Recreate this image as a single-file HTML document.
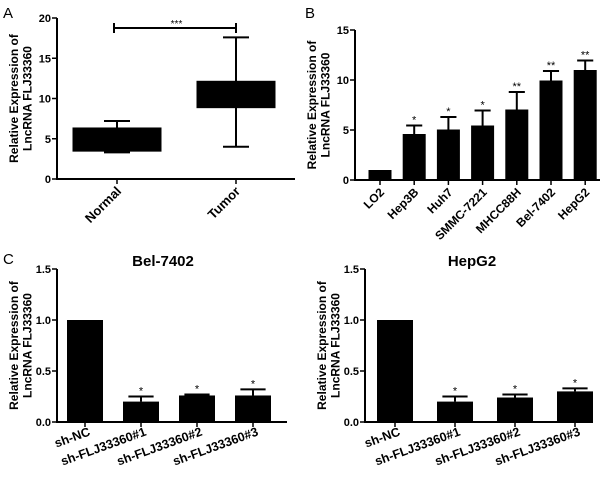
<!DOCTYPE html>
<html><head><meta charset="utf-8"><style>
html,body{margin:0;padding:0;background:#fff}
svg{display:block;font-family:"Liberation Sans",Arial,sans-serif}
</style></head><body>
<svg id="fig" width="600" height="486" viewBox="0 0 600 486"></svg>
<script>
// Panel A data (box plot)
const aCategories=["Normal","Tumor"];
const aMin=[3.3,4.0];
const aQ1=[3.4,8.8];
const aQ3=[6.4,12.2];
const aMax=[7.2,17.6];
const aTicks=[0,5,10,15,20];
// Panel B data
const bCategories=["LO2","Hep3B","Huh7","SMMC-7221","MHCC88H","Bel-7402","HepG2"];
const bValues=[1,4.6,5.05,5.45,7.05,9.95,11.0];
const bErr=[0,0.85,1.25,1.5,1.75,0.95,0.95];
const bStars=["","*","*","*","**","**","**"];
const bTicks=[0,5,10,15];
// Panel C data
const cCategories=["sh-NC","sh-FLJ33360#1","sh-FLJ33360#2","sh-FLJ33360#3"];
const cBelValues=[1.0,0.2,0.26,0.26];
const cBelErr=[0,0.05,0.01,0.06];
const cHepValues=[1.0,0.2,0.24,0.3];
const cHepErr=[0,0.05,0.03,0.03];
const cStars=["","*","*","*"];
const cTicks=[0,0.5,1.0,1.5];

const NS="http://www.w3.org/2000/svg";
const svg=document.getElementById('fig');
function el(tag,attrs,parent,txt){const e=document.createElementNS(NS,tag);for(const k in attrs)e.setAttribute(k,attrs[k]);if(txt!==undefined)e.textContent=txt;(parent||svg).appendChild(e);return e;}
function line(x1,y1,x2,y2,p,w){return el('line',{x1,y1,x2,y2,stroke:'#000','stroke-width':w||2},p);}

function axes(g,x0,xEnd,yTop,yBot,ticks,vmax,fmt,title){
  const sy=v=>yBot-(v/vmax)*(yBot-yTop);
  const ya=line(x0,yTop,x0,yBot+1,g);
  
  const xa=line(x0-1,yBot,xEnd,yBot,g);
  
  ticks.forEach(t=>{
    line(x0-5,sy(t),x0,sy(t),g,1.5);
    const tl=el('text',{x:x0-6,y:sy(t)+4,'text-anchor':'end','font-size':11,'font-weight':'bold'},g,fmt(t));
    
  });
  const cy=(yTop+yBot)/2, tx=x0-39;
  const tt=el('text',{transform:`translate(${tx},${cy}) rotate(-90)`,'text-anchor':'middle','font-size':12,'font-weight':'bold'},g);
  
  el('tspan',{x:0,y:0},tt,title[0]);el('tspan',{x:0,y:13.5},tt,title[1]);
  return sy;
}
const ytitle=["Relative Expression of","LncRNA FLJ33360"];

function panelLabel(x,y,t){const e=el('text',{x,y,'font-size':15},svg,t);}
panelLabel(3,18,"A");panelLabel(305,18,"B");panelLabel(3,264,"C");

// Panel A
(function(){
  const g=el('g',{});
  const x0=57,xEnd=295,yTop=18,yBot=179;
  const sy=axes(g,x0,xEnd,yTop,yBot,aTicks,20,t=>String(t),ytitle);
  const cx=i=>117+i*119;
  const bw=[89,79];
  aCategories.forEach((c,i)=>{
    const x=cx(i);
    const wl=line(x,sy(aMax[i]),x,sy(aMin[i]),g,2);
    
    line(x-13,sy(aMax[i]),x+13,sy(aMax[i]),g,2);
    line(x-13,sy(aMin[i]),x+13,sy(aMin[i]),g,2);
    const b=el('rect',{x:x-bw[i]/2,y:sy(aQ3[i]),width:bw[i],height:sy(aQ1[i])-sy(aQ3[i]),fill:'#000'},g);
    
    line(x,yBot,x,yBot+5,g,1.5);
    const tl=el('text',{transform:`translate(${x+5},${yBot+13}) rotate(-45)`,'text-anchor':'end','font-size':13,'font-weight':'bold'},g,c);
    
  });
  const bg=el('g',{},g);
  line(cx(0)-3,28,cx(1),28,bg,2);line(cx(0)-3,23,cx(0)-3,33,bg,2);line(cx(1),23,cx(1),33,bg,2);
  el('text',{x:(cx(0)+cx(1))/2,y:27,'text-anchor':'middle','font-size':10},bg,'***');
})();

function barPanel(name,x0,xEnd,yTop,yBot,ticks,vmax,fmt,cats,vals,errs,stars,c0,step,bw,rot,lblOff,lblSize){
  const g=el('g',{});
  const sy=axes(g,x0,xEnd,yTop,yBot,ticks,vmax,fmt,ytitle);
  cats.forEach((c,i)=>{
    const x=c0+i*step;
    if(errs[i]>0){
      const e=line(x,sy(vals[i]),x,sy(vals[i]+errs[i]),g,2);
      
      line(x-bw*0.35,sy(vals[i]+errs[i]),x+bw*0.35,sy(vals[i]+errs[i]),g,2);
    }
    const r=el('rect',{x:x-bw/2,y:sy(vals[i]),width:bw,height:yBot-sy(vals[i]),fill:'#000'},g);
    
    if(stars[i]){const s=el('text',{x,y:sy(vals[i]+errs[i])-2,'text-anchor':'middle','font-size':11},g,stars[i]);}
    line(x,yBot,x,yBot+5,g,1.5);
    const tl=el('text',{transform:`translate(${x+lblOff},${yBot+13}) rotate(${rot})`,'text-anchor':'end','font-size':lblSize,'font-weight':'bold'},g,c);
    
  });
  return g;
}
barPanel('panel-b-cell-lines',355,600,30,180,bTicks,15,t=>String(t),bCategories,bValues,bErr,bStars,380,34.2,23,-45,5,12);
barPanel('panel-c-bel7402',57,287,269,422,cTicks,1.5,t=>t.toFixed(1),cCategories,cBelValues,cBelErr,cStars,85,56,36,-20,6,12.5);
barPanel('panel-c-hepg2',365,593,269,422,cTicks,1.5,t=>t.toFixed(1),cCategories,cHepValues,cHepErr,cStars,395,60,36,-20,6,12.5);
const t1=el('text',{x:163,y:266,'text-anchor':'middle','font-size':15,'font-weight':'bold'},svg,'Bel-7402');

const t2=el('text',{x:472,y:266,'text-anchor':'middle','font-size':15,'font-weight':'bold'},svg,'HepG2');

</script>
</body></html>
